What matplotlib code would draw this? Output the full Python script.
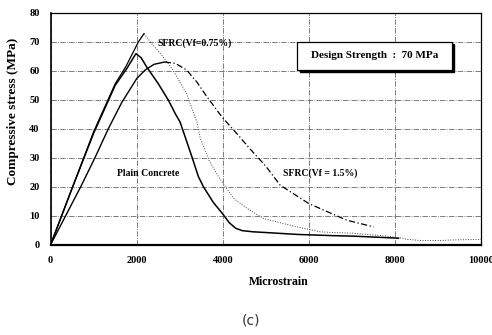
import matplotlib
matplotlib.use('Agg')
import matplotlib.pyplot as plt
from matplotlib.patches import Rectangle

# Curvas esfuerzo-deformación
plain_x = [0, 500, 1000, 1500, 1780, 1980, 2100, 2230, 2500, 2735, 2900, 3005, 3150,
           3280, 3430, 3550, 3780, 4000, 4150, 4300, 4450, 4700, 4940, 5720, 6500, 7030, 8080]
plain_y = [0, 19.5, 38.5, 55, 61, 65.9, 64.5, 61.3, 55.5, 49.8, 45, 42.3, 36,
           30.3, 23.5, 19.9, 14.5, 10.5, 7.5, 5.6, 4.8, 4.4, 4.2, 3.5, 3.1, 2.9, 2.2]

sfrc075_x = [0, 500, 1000, 1500, 1750, 2040, 2170, 2310, 2600, 2850, 3160,
             3400, 3470, 3680, 3900, 4010, 4250, 4560, 4940, 5720, 6260, 6500, 7030,
             7810, 8050, 8280, 8590, 9050, 9360, 10000]
sfrc075_y = [0, 19.5, 39, 55.5, 61.5, 70, 72.8, 70, 65, 60, 52,
             42, 37, 29, 23.4, 21, 15.9, 12.5, 9.0, 6.1, 4.4, 4.2, 3.9,
             2.9, 2.5, 1.8, 1.4, 1.4, 1.6, 1.8]
peak075 = 6

sfrc15_x = [0, 350, 700, 1030, 1340, 1650, 2000, 2200, 2400, 2650, 2900, 3160, 3400, 3630,
            3980, 4400, 4630, 5000, 5330, 5990, 6340, 6880, 7500]
sfrc15_y = [0, 10, 20, 30, 40, 49, 57.3, 60.3, 62.2, 63, 62.5, 60.2, 56, 51,
            44, 37, 33, 27, 20.5, 14.2, 11.9, 8.4, 6.1]
peak15 = 9

x_ticks = [0, 2000, 4000, 6000, 8000, 10000]
y_ticks = [0, 10, 20, 30, 40, 50, 60, 70, 80]

serif = 'Liberation Serif'

fig = plt.figure(figsize=(4.92, 3.35), dpi=100)
ax = fig.add_axes([0.103, 0.270, 0.875, 0.692])

# Rejilla punto-raya
ax.grid(True, linestyle='-.', linewidth=0.6, color='0.4')
ax.set_axisbelow(True)

# Hormigón simple
ax.plot(plain_x, plain_y, color='black', linewidth=1.1)
# SFRC 0.75%: rama ascendente continua, descendente punteada
ax.plot(sfrc075_x[:peak075 + 1], sfrc075_y[:peak075 + 1], color='black', linewidth=0.9)
ax.plot(sfrc075_x[peak075:], sfrc075_y[peak075:], color='0.25', linewidth=0.7,
        linestyle=(0, (1, 1.6)))
# SFRC 1.5%: rama ascendente continua, descendente punto-raya
ax.plot(sfrc15_x[:peak15 + 1], sfrc15_y[:peak15 + 1], color='black', linewidth=1.0)
ax.plot(sfrc15_x[peak15:], sfrc15_y[peak15:], color='black', linewidth=0.9,
        linestyle=(0, (5, 2, 1, 2)))

ax.set_xlim(0, 10000)
ax.set_ylim(0, 80)
ax.set_xticks(x_ticks)
ax.set_yticks(y_ticks)
ax.tick_params(length=0, pad=8)
for lbl in ax.get_xticklabels() + ax.get_yticklabels():
    lbl.set_fontfamily(serif)
    lbl.set_fontweight('bold')
    lbl.set_fontsize(7.5)

for s in ax.spines.values():
    s.set_color('black')
    s.set_linewidth(0.9)
ax.spines['bottom'].set_linewidth(1.6)
ax.spines['left'].set_linewidth(1.2)

# Etiquetas de las curvas
ax.text(2470, 69.5, 'SFRC(Vf=0.75%)', fontfamily=serif, fontweight='bold',
        fontsize=7, va='center', ha='left')
ax.text(2270, 24.5, 'Plain Concrete', fontfamily=serif, fontweight='bold',
        fontsize=7, va='center', ha='center')
ax.text(5400, 24.5, 'SFRC(Vf = 1.5%)', fontfamily=serif, fontweight='bold',
        fontsize=7, va='center', ha='left')

# Cuadro de resistencia de diseño con sombra
ax.add_patch(Rectangle((0.578, 0.743), 0.36, 0.122, transform=ax.transAxes,
                       facecolor='black', edgecolor='black', zorder=5))
ax.add_patch(Rectangle((0.573, 0.753), 0.36, 0.122, transform=ax.transAxes,
                       facecolor='white', edgecolor='black', linewidth=0.9, zorder=6))
ax.text(0.753, 0.814, 'Design Strength  :  70 MPa', transform=ax.transAxes,
        fontfamily=serif, fontweight='bold', fontsize=8, ha='center', va='center',
        zorder=7)

ax.set_xlabel('Microstrain', fontfamily=serif, fontweight='bold', fontsize=8.5)
ax.xaxis.set_label_coords(0.53, -0.135)
fig.text(13 / 492, 1 - 111 / 335, 'Compressive stress (MPa)', fontfamily=serif,
         fontweight='bold', fontsize=9.5, rotation=90, ha='center', va='center')

fig.text(251 / 492, 1 - 320 / 335, '(c)', fontsize=10, ha='center', va='center',
         color='0.2')

plt.savefig('out.png', dpi=100)
